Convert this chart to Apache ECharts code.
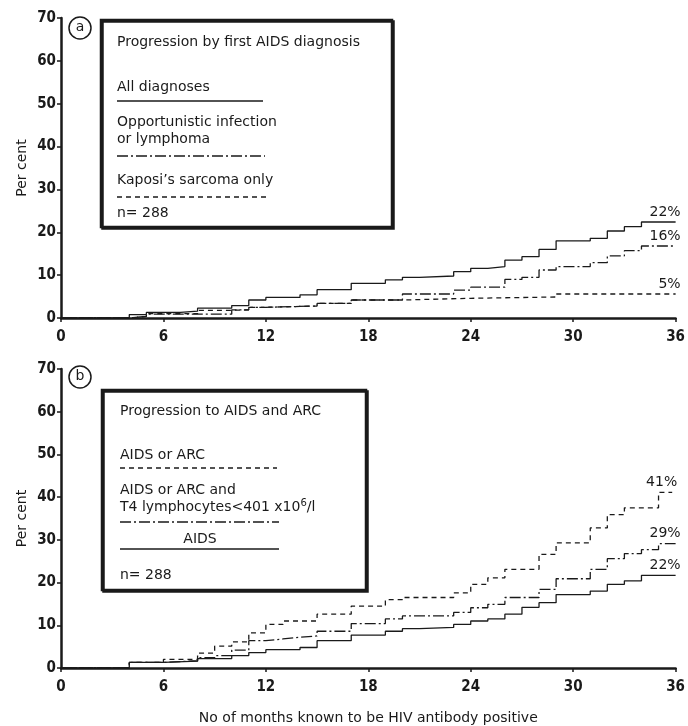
<!DOCTYPE html>
<html>
<head>
<meta charset="utf-8">
<script src="https://cdn.jsdelivr.net/npm/echarts@6/dist/echarts.min.js"></script>
<style>
  html, body { margin: 0; padding: 0; background: #fff; }
  #main { width: 688px; height: 726px; }
</style>
</head>
<body>
<div id="main"></div>
<script>
// ticks
var monthTicks = [0, 6, 12, 18, 24, 30, 36];
var pctTicks = [0, 10, 20, 30, 40, 50, 60, 70];

// panel a : progression by first AIDS diagnosis
var aAllMonths = [0, 4, 5, 7, 8, 10, 11, 12, 14, 15, 17, 19, 20, 21, 23, 24, 25, 26, 27, 28, 29, 31, 32, 33, 34, 36];
var aAllVals   = [0, 0.8, 1.3, 1.6, 2.3, 2.9, 4.2, 4.8, 5.4, 6.6, 8.1, 8.9, 9.5, 9.8, 10.8, 11.6, 12.0, 13.5, 14.3, 16.0, 18.0, 18.6, 20.3, 21.3, 22.4, 22.4];
var aOIMonths  = [0, 4, 5, 10, 11, 12, 15, 17, 20, 23, 24, 26, 27, 28, 29, 31, 32, 33, 34, 36];
var aOIVals    = [0, 0.4, 0.9, 1.9, 2.5, 2.8, 3.4, 4.2, 5.6, 6.5, 7.2, 9.0, 9.5, 11.2, 12.0, 12.9, 14.5, 15.7, 16.8, 16.8];
var aKSMonths  = [0, 4, 5, 8, 10, 11, 12, 15, 17, 20, 24, 29, 36];
var aKSVals    = [0, 0.4, 1.0, 1.8, 1.9, 2.5, 2.8, 3.4, 4.2, 4.6, 4.9, 5.6, 5.6];

// panel b : progression to AIDS and ARC
var bArcMonths  = [0, 4, 6, 8, 9, 10, 11, 12, 13, 15, 17, 19, 20, 23, 24, 25, 26, 28, 29, 31, 32, 33, 35, 35.8];
var bArcVals    = [0, 1.3, 2.0, 3.5, 5.1, 6.1, 8.2, 10.2, 11.0, 12.6, 14.5, 16.0, 16.5, 17.6, 19.6, 21.1, 23.1, 26.6, 29.3, 32.8, 35.9, 37.5, 41.1, 41.1];
var bT4Months   = [0, 4, 6, 8, 9, 10, 11, 12, 13, 14, 15, 17, 19, 20, 23, 24, 25, 26, 28, 29, 31, 32, 33, 34, 35, 36];
var bT4Vals     = [0, 1.3, 1.7, 2.4, 2.9, 4.2, 6.4, 6.8, 7.2, 7.5, 8.6, 10.4, 11.5, 12.2, 13.0, 14.1, 14.9, 16.5, 18.4, 20.9, 23.1, 25.6, 26.8, 27.7, 29.1, 29.1];
var bAidsMonths = [0, 4, 6, 8, 10, 11, 12, 14, 15, 17, 19, 20, 21, 23, 24, 25, 26, 27, 28, 29, 31, 32, 33, 34, 36];
var bAidsVals   = [0, 1.3, 1.6, 2.2, 2.9, 3.6, 4.3, 4.8, 6.4, 7.7, 8.6, 9.2, 9.5, 10.2, 11.0, 11.5, 12.6, 14.2, 15.3, 17.2, 18.0, 19.6, 20.4, 21.7, 21.7];

var endLabels = { aAll: '22%', aOI: '16%', aKS: '5%', bArc: '41%', bT4: '29%', bAids: '22%' };

var ink = '#1a1a1a';
var txtFont = '"DejaVu Sans", "Liberation Sans", sans-serif';
var tickFont = '"DejaVu Sans Condensed", "Liberation Sans", sans-serif';
var dashDot = [11, 3, 2, 3];
var dashed = [5, 4];

function pairs(xs, ys) {
  var out = [];
  for (var i = 0; i < xs.length; i++) out.push([xs[i], ys[i]]);
  return out;
}

function xAx(idx, withName) {
  return {
    gridIndex: idx, type: 'value', min: 0, max: 36, interval: 6,
    axisLine: { lineStyle: { color: ink, width: 2.5 } },
    axisTick: { show: true, length: 4, lineStyle: { color: ink, width: 1.5 } },
    axisLabel: { color: ink, fontFamily: tickFont, fontWeight: 'bold', fontSize: 15, margin: 12,
      formatter: function (v) { return monthTicks.indexOf(v) >= 0 ? String(v) : ''; } },
    splitLine: { show: false },
    name: withName ? 'No of months known to be HIV antibody positive' : '',
    nameLocation: 'middle', nameGap: 43, nameMoveOverlap: false,
    nameTextStyle: { color: ink, fontFamily: txtFont, fontSize: 14 }
  };
}
function yAx(idx) {
  return {
    gridIndex: idx, type: 'value', min: 0, max: 70, interval: 10,
    axisLine: { show: true, lineStyle: { color: ink, width: 2.5 } },
    axisTick: { show: true, length: 4, lineStyle: { color: ink, width: 1.5 } },
    axisLabel: { color: ink, fontFamily: tickFont, fontWeight: 'bold', fontSize: 15, margin: 5,
      formatter: function (v) { return pctTicks.indexOf(v) >= 0 ? String(v) : ''; } },
    splitLine: { show: false },
    name: 'Per cent', nameLocation: 'middle', nameRotate: 90, nameGap: 32, nameMoveOverlap: false,
    nameTextStyle: { color: ink, fontFamily: txtFont, fontSize: 14 }
  };
}
function stepLine(name, idx, xs, ys, dash, label) {
  return {
    name: name, type: 'line', step: 'end', xAxisIndex: idx, yAxisIndex: idx,
    data: pairs(xs, ys), symbol: 'none', silent: true, z: 3,
    lineStyle: { color: ink, width: 1.3, type: dash || 'solid' },
    endLabel: { show: true, formatter: label, color: ink, fontFamily: txtFont, fontSize: 14,
      align: 'right', verticalAlign: 'bottom', distance: 0, offset: [5, -3] }
  };
}

// legend box helpers
function legendBox(x, y, w, h) {
  return { type: 'rect', shape: { x: x, y: y, width: w, height: h },
    style: { fill: '#fff', stroke: ink, lineWidth: 2.5,
      shadowColor: ink, shadowOffsetX: 1.5, shadowOffsetY: 1.5 }, z: 10 };
}
function txt(x, y, s, opt) {
  opt = opt || {};
  return { type: 'text', x: x, y: y, z: 11,
    style: { text: s, fill: ink, font: '14px ' + txtFont, textAlign: opt.align || 'left', textVerticalAlign: 'middle' } };
}
function ln(x1, x2, y, dash) {
  return { type: 'line', shape: { x1: x1, y1: y, x2: x2, y2: y }, z: 11,
    style: { stroke: ink, lineWidth: 1.3, lineDash: dash || null } };
}
function badge(cx, cy, s) {
  return [
    { type: 'circle', shape: { cx: cx, cy: cy, r: 11 }, style: { fill: '#fff', stroke: ink, lineWidth: 1.5 }, z: 10 },
    { type: 'text', x: cx, y: cy - 1, z: 11, style: { text: s, fill: ink, font: '14px ' + txtFont, textAlign: 'center', textVerticalAlign: 'middle' } }
  ];
}

var chart = echarts.init(document.getElementById('main'), null, { renderer: 'canvas' });
var option = {
  backgroundColor: '#fff',
  animation: false,
  grid: [
    { left: 61, top: 18, width: 616, height: 300 },
    { left: 61, top: 369, width: 616, height: 300 }
  ],
  xAxis: [xAx(0, false), xAx(1, true)],
  yAxis: [yAx(0), yAx(1)],
  series: [
    stepLine('All diagnoses', 0, aAllMonths, aAllVals, 'solid', endLabels.aAll),
    stepLine('Opportunistic infection or lymphoma', 0, aOIMonths, aOIVals, dashDot, endLabels.aOI),
    stepLine("Kaposi's sarcoma only", 0, aKSMonths, aKSVals, dashed, endLabels.aKS),
    stepLine('AIDS or ARC', 1, bArcMonths, bArcVals, dashed, endLabels.bArc),
    stepLine('AIDS or ARC and T4 lymphocytes <401', 1, bT4Months, bT4Vals, dashDot, endLabels.bT4),
    stepLine('AIDS', 1, bAidsMonths, bAidsVals, 'solid', endLabels.bAids)
  ],
  graphic: [].concat(
    badge(80, 28, 'a'),
    [
      legendBox(101, 20, 291, 207),
      txt(117, 42, 'Progression by first AIDS diagnosis'),
      txt(117, 87, 'All diagnoses'),
      ln(117, 263, 101),
      txt(117, 122, 'Opportunistic infection'),
      txt(117, 139, 'or lymphoma'),
      ln(117, 265, 156, dashDot),
      txt(117, 180, 'Kaposi\u2019s sarcoma only'),
      ln(117, 267, 197, dashed),
      txt(117, 213, 'n= 288')
    ],
    badge(80, 377, 'b'),
    [
      legendBox(102, 390, 264, 200),
      txt(120, 411, 'Progression to AIDS and ARC'),
      txt(120, 455, 'AIDS or ARC'),
      ln(120, 277, 468, dashed),
      txt(120, 490, 'AIDS or ARC and'),
      { type: 'text', x: 120, y: 507, z: 11,
        style: { text: 'T4 lymphocytes<401 x10{s|6}/l', fill: ink, font: '14px ' + txtFont, textVerticalAlign: 'middle',
          rich: { s: { fontSize: 10, verticalAlign: 'top', padding: [0, 0, 8, 0], fontFamily: txtFont } } } },
      ln(120, 279, 522, dashDot),
      txt(200, 539, 'AIDS', { align: 'center' }),
      ln(120, 279, 549),
      txt(120, 575, 'n= 288')
    ]
  )
};
chart.setOption(option);
</script>
</body>
</html>
